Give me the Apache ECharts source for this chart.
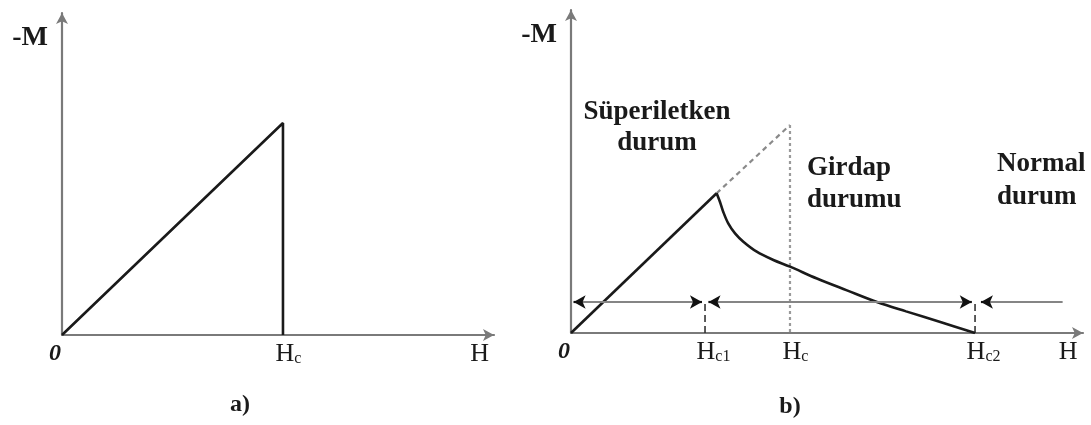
<!DOCTYPE html>
<html>
<head>
<meta charset="utf-8">
<script src="https://cdn.jsdelivr.net/npm/echarts@6/dist/echarts.min.js"></script>
<style>
  html, body { margin: 0; padding: 0; background: #fff; }
  #chart { width: 1091px; height: 425px; }
</style>
</head>
<body>
<div id="chart"></div>
<script>
// a) type-I superconductor: -M rises linearly with H and drops to zero at Hc
const typeIH = [0, 1, 1];
const typeIM = [0, 1, 0];

// b) type-II superconductor (H in units of Hc)
const hc1 = 0.612;
const hc2 = 1.845;
const meissnerH = [0, 0.665];
const meissnerM = [0, 0.672];
const extrapH = [0.665, 1];
const extrapM = [0.672, 1];
const vortexH = [0.665, 0.680, 0.695, 0.718, 0.749, 0.787, 0.848, 0.924, 1.0, 1.123, 1.26, 1.397, 1.53, 1.69, 1.845];
const vortexM = [0.672, 0.631, 0.583, 0.527, 0.479, 0.439, 0.391, 0.351, 0.319, 0.262, 0.205, 0.149, 0.104, 0.052, 0];

// level of the region arrows and their spans along H
const arrowLevel = 0.149;
const regionFrom = [0.012, 0.628, 1.872];
const regionTo   = [0.598, 1.830, 2.245];
const regionBothEnds = [true, true, false];

// tick labels: value, main text, subscript
const leftTicks = [0, 1, 1.89];
const leftTickMain = ['0', 'H', 'H'];
const leftTickSub = ['', 'c', ''];
const rightTicks = [0, 0.612, 1, 1.845, 2.27];
const rightTickMain = ['0', 'H', 'H', 'H', 'H'];
const rightTickSub = ['', 'c1', 'c', 'c2', ''];

const serif = '"Liberation Serif", "Times New Roman", serif';
const axisGray = '#7a7a7a';
const ink = '#1a1a1a';
const headLen = 0.02; // length of the dark stub carrying each arrowhead

function pair(xs, ys) { return xs.map((x, i) => [x, ys[i]]); }

function tickFormatter(ticks, mains, subs) {
  return function (v) {
    const i = ticks.findIndex(t => Math.abs(t - v) < 1e-6);
    if (i < 0) return '';
    if (mains[i] === '0') return '{z|0}';
    if (!subs[i]) return '{n|' + mains[i] + '}';
    return '{' + (subs[i].length > 1 ? 'hw' : 'h') + '|' + mains[i] + '}{s|' + subs[i] + '}';
  };
}

const tickRich = {
  z: { fontFamily: serif, fontSize: 24, fontWeight: 'bold', fontStyle: 'italic', color: ink, padding: [0, 14, 0, 0], lineHeight: 26 },
  n: { fontFamily: serif, fontSize: 26, color: ink, lineHeight: 26 },
  h: { fontFamily: serif, fontSize: 26, color: ink, padding: [0, 0, 0, 11], lineHeight: 26 },
  hw: { fontFamily: serif, fontSize: 26, color: ink, padding: [0, 0, 0, 17], lineHeight: 26 },
  s: { fontFamily: serif, fontSize: 16, color: ink, verticalAlign: 'bottom', lineHeight: 14 }
};

function xAxisFor(gridIndex, min, max, ticks, mains, subs) {
  return {
    type: 'value', gridIndex, min, max,
    splitLine: { show: false },
    axisTick: { show: false },
    axisLine: { show: true, symbol: ['none', 'arrow'], symbolSize: [9, 11], lineStyle: { color: axisGray, width: 2.2 } },
    axisLabel: {
      show: true, customValues: ticks, margin: 6,
      formatter: tickFormatter(ticks, mains, subs),
      rich: tickRich
    }
  };
}

function yAxisFor(gridIndex, max) {
  return {
    type: 'value', gridIndex, min: 0, max,
    splitLine: { show: false },
    axisTick: { show: false },
    axisLabel: { show: false },
    axisLine: { show: true, symbol: ['none', 'arrow'], symbolSize: [9, 11], lineStyle: { color: axisGray, width: 2.2 } },
    name: '-M', nameLocation: 'end', nameGap: -25,
    nameTextStyle: { fontFamily: serif, fontSize: 28, fontWeight: 'bold', color: ink, align: 'right', verticalAlign: 'middle', padding: [0, 14, 0, 0] }
  };
}

function curve(xi, yi, data, opts) {
  return Object.assign({
    type: 'line', xAxisIndex: xi, yAxisIndex: yi, data,
    symbol: 'none', silent: true, animation: false,
    lineStyle: { color: ink, width: 2.6 }
  }, opts || {});
}

// gray shafts of the region arrows
const shaftLines = regionFrom.map((f, i) => [
  { coord: [f, arrowLevel] }, { coord: [regionTo[i], arrowLevel] }
]);
// dark arrowheads at the ends of each shaft
const headLines = [];
regionFrom.forEach((f, i) => {
  headLines.push([{ coord: [f + headLen, arrowLevel], symbol: 'none' }, { coord: [f, arrowLevel], symbol: 'arrow' }]);
  if (regionBothEnds[i]) {
    headLines.push([{ coord: [regionTo[i] - headLen, arrowLevel], symbol: 'none' }, { coord: [regionTo[i], arrowLevel], symbol: 'arrow' }]);
  }
});

const chart = echarts.init(document.getElementById('chart'), null, { renderer: 'canvas' });
chart.setOption({
  animation: false,
  backgroundColor: '#ffffff',
  grid: [
    { left: 62, top: 13, width: 432, height: 322, outerBoundsMode: 'none', containLabel: false },
    { left: 571, top: 10, width: 512, height: 323, outerBoundsMode: 'none', containLabel: false }
  ],
  xAxis: [
    xAxisFor(0, 0, 1.955, leftTicks, leftTickMain, leftTickSub),
    xAxisFor(1, 0, 2.338, rightTicks, rightTickMain, rightTickSub)
  ],
  yAxis: [yAxisFor(0, 1.519), yAxisFor(1, 1.553)],
  series: [
    curve(0, 0, pair(typeIH, typeIM)),
    // dashed extrapolation of the Meissner line up to Hc
    curve(1, 1, pair(extrapH, extrapM), { lineStyle: { color: '#8a8a8a', width: 2.2, type: [5, 4] } }),
    // dotted marker at Hc
    curve(1, 1, [[1, 1], [1, 0]], { lineStyle: { color: '#9a9a9a', width: 2.2, type: [3, 3] } }),
    // short dashed markers at Hc1 and Hc2, carrying the region arrows
    curve(1, 1, [[hc1, 0], [hc1, arrowLevel]], {
      lineStyle: { color: '#333', width: 1.6, type: [7, 4] },
      markLine: {
        silent: true, animation: false, symbol: 'none',
        label: { show: false },
        lineStyle: { color: '#858585', width: 2.2, type: 'solid' },
        emphasis: { disabled: true },
        data: shaftLines
      }
    }),
    curve(1, 1, [[hc2, 0], [hc2, arrowLevel]], {
      lineStyle: { color: '#333', width: 1.6, type: [7, 4] },
      markLine: {
        silent: true, animation: false,
        symbolSize: [10, 12],
        label: { show: false },
        lineStyle: { color: '#111', width: 2.2, type: 'solid' },
        emphasis: { disabled: true },
        data: headLines
      }
    }),
    curve(1, 1, pair(meissnerH, meissnerM)),
    curve(1, 1, pair(vortexH, vortexM), { smooth: 0.35 })
  ],
  graphic: [
    { type: 'text', silent: true,
      style: { text: 'Süperiletken\ndurum', x: 657, y: 128, align: 'center', verticalAlign: 'middle', lineHeight: 31, font: 'bold 27px ' + serif, fill: ink } },
    { type: 'text', silent: true,
      style: { text: 'Girdap\ndurumu', x: 807, y: 184, align: 'left', verticalAlign: 'middle', lineHeight: 32, font: 'bold 27px ' + serif, fill: ink } },
    { type: 'text', silent: true,
      style: { text: 'Normal\ndurum', x: 997, y: 181, align: 'left', verticalAlign: 'middle', lineHeight: 33, font: 'bold 27px ' + serif, fill: ink } },
    { type: 'text', silent: true,
      style: { text: 'a)', x: 240, y: 405, align: 'center', verticalAlign: 'middle', font: 'bold 24px ' + serif, fill: ink } },
    { type: 'text', silent: true,
      style: { text: 'b)', x: 790, y: 407, align: 'center', verticalAlign: 'middle', font: 'bold 24px ' + serif, fill: ink } }
  ]
});
</script>
</body>
</html>
